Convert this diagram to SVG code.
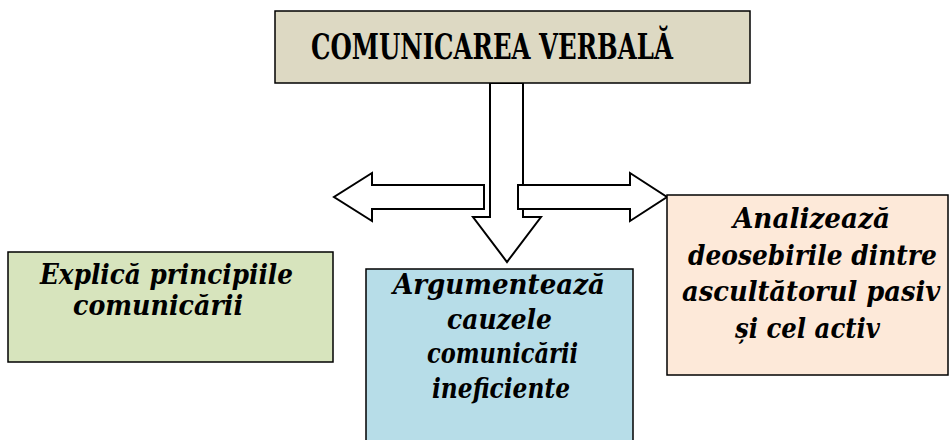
<svg xmlns="http://www.w3.org/2000/svg" width="950" height="440" viewBox="0 0 950 440">
<style>
.box{stroke:#000;stroke-width:1.5}
.arrow{fill:#fff;stroke:#000;stroke-width:2;stroke-linejoin:miter}
.t{font-family:"DejaVu Serif","Liberation Serif",serif;font-weight:bold;fill:#000}
.i{font-style:italic;font-size:28px;text-anchor:start}
</style>
<rect width="950" height="440" fill="#fff"/>
<g id="connectors">
<polygon class="arrow" points="490,83 523,83 523,217 541,217 507,262 473,217 490,217"/>
<polygon class="arrow" points="484,185 484,209 372,209 372,221 334,197 372,173 372,185"/>
<polygon class="arrow" points="518,185 630,185 630,173 667,197 630,221 630,209 518,209"/>
</g>
<g id="top">
<rect class="box" x="275" y="11" width="475" height="72" fill="#ddd9c3"/>
<text class="t" x="311" y="59" font-size="35" textLength="362" lengthAdjust="spacingAndGlyphs">COMUNICAREA VERBALĂ</text>
</g>
<g id="left">
<rect class="box" x="8" y="252" width="325" height="110" fill="#d7e4bd"/>
<text class="t i" x="40" y="284" textLength="253" lengthAdjust="spacingAndGlyphs">Explică principiile</text>
<text class="t i" x="73" y="315" textLength="170" lengthAdjust="spacingAndGlyphs">comunicării</text>
</g>
<g id="middle">
<rect class="box" x="366" y="269" width="267" height="180" fill="#b7dde8"/>
<text class="t i" x="393" y="294" textLength="212" lengthAdjust="spacingAndGlyphs">Argumentează</text>
<text class="t i" x="447" y="329" textLength="105" lengthAdjust="spacingAndGlyphs">cauzele</text>
<text class="t i" x="427" y="363" textLength="151" lengthAdjust="spacingAndGlyphs">comunicării</text>
<text class="t i" x="432" y="398" textLength="138" lengthAdjust="spacingAndGlyphs">ineficiente</text>
</g>
<g id="right">
<rect class="box" x="667" y="195" width="281" height="180" fill="#fde9d9"/>
<text class="t i" x="733" y="228" textLength="157" lengthAdjust="spacingAndGlyphs">Analizează</text>
<text class="t i" transform="translate(688,265) scale(0.78,1)" x="0" y="0" textLength="319" lengthAdjust="spacingAndGlyphs">deosebirile dintre</text>
<text class="t i" transform="translate(682,301) scale(0.78,1)" x="0" y="0" textLength="331" lengthAdjust="spacingAndGlyphs">ascultătorul pasiv</text>
<text class="t i" x="735" y="338" textLength="145" lengthAdjust="spacingAndGlyphs">și cel activ</text>
</g>
</svg>
